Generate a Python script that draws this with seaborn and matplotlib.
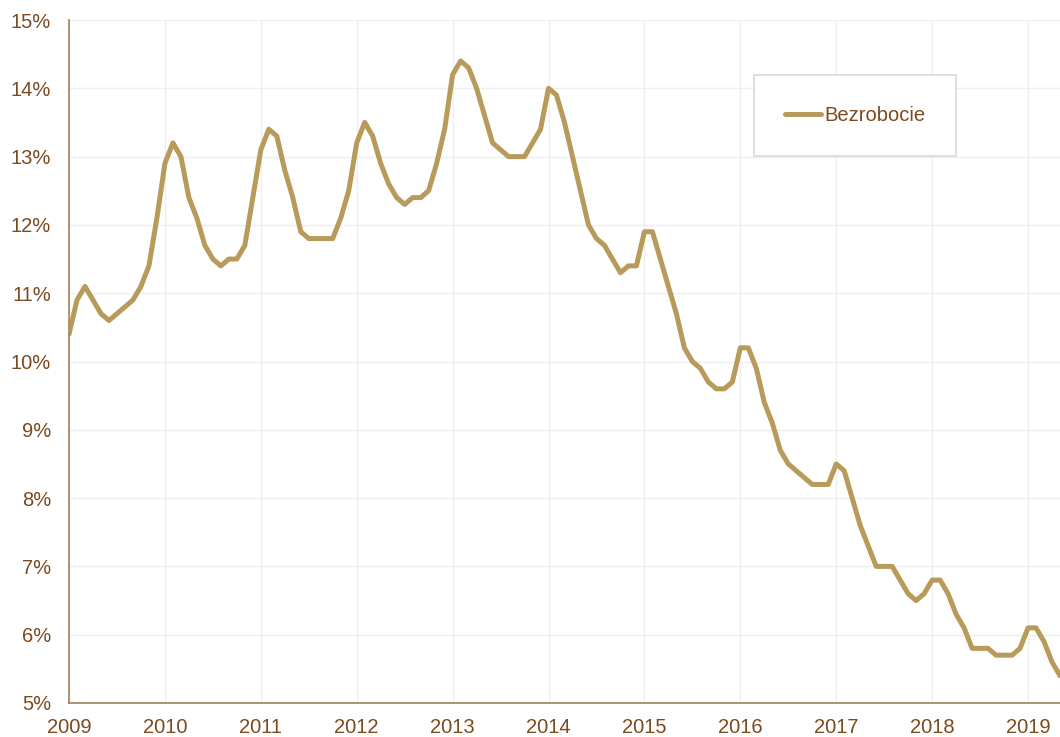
import numpy as np
import pandas as pd
import matplotlib
matplotlib.use("Agg")
import matplotlib.pyplot as plt
import seaborn as sns

# monthly unemployment rate (%), Jan 2009 - May 2019
rate_2009 = [10.4, 10.9, 11.1, 10.9, 10.7, 10.6, 10.7, 10.8, 10.9, 11.1, 11.4, 12.1]
rate_2010 = [12.9, 13.2, 13.0, 12.4, 12.1, 11.7, 11.5, 11.4, 11.5, 11.5, 11.7, 12.4]
rate_2011 = [13.1, 13.4, 13.3, 12.8, 12.4, 11.9, 11.8, 11.8, 11.8, 11.8, 12.1, 12.5]
rate_2012 = [13.2, 13.5, 13.3, 12.9, 12.6, 12.4, 12.3, 12.4, 12.4, 12.5, 12.9, 13.4]
rate_2013 = [14.2, 14.4, 14.3, 14.0, 13.6, 13.2, 13.1, 13.0, 13.0, 13.0, 13.2, 13.4]
rate_2014 = [14.0, 13.9, 13.5, 13.0, 12.5, 12.0, 11.8, 11.7, 11.5, 11.3, 11.4, 11.4]
rate_2015 = [11.9, 11.9, 11.5, 11.1, 10.7, 10.2, 10.0, 9.9, 9.7, 9.6, 9.6, 9.7]
rate_2016 = [10.2, 10.2, 9.9, 9.4, 9.1, 8.7, 8.5, 8.4, 8.3, 8.2, 8.2, 8.2]
rate_2017 = [8.5, 8.4, 8.0, 7.6, 7.3, 7.0, 7.0, 7.0, 6.8, 6.6, 6.5, 6.6]
rate_2018 = [6.8, 6.8, 6.6, 6.3, 6.1, 5.8, 5.8, 5.8, 5.7, 5.7, 5.7, 5.8]
rate_2019 = [6.1, 6.1, 5.9, 5.6, 5.4]

years = [str(y) for y in range(2009, 2020)]
y_ticks = list(range(5, 16))
series_name = "Bezrobocie"

rates = (rate_2009 + rate_2010 + rate_2011 + rate_2012 + rate_2013 + rate_2014
         + rate_2015 + rate_2016 + rate_2017 + rate_2018 + rate_2019)
df = pd.DataFrame({"month": np.arange(len(rates)), "rate": rates, "series": series_name})

line_color = "#b89a5a"
text_color = "#7b4a1f"
spine_color = "#a88a68"
grid_color = "#efefef"

sns.set_theme(style="whitegrid")
plt.rcParams["font.family"] = ["Liberation Sans", "DejaVu Sans"]

fig = plt.figure(figsize=(10.6, 7.37), dpi=100)
ax = fig.add_axes([69 / 1060, 1 - 703 / 737, 1 - 69 / 1060, (703 - 20) / 737])

sns.lineplot(data=df, x="month", y="rate", hue="series", palette=[line_color],
             linewidth=3.6, ax=ax)

ax.set_xlim(0, len(rates) - 1)
ax.set_ylim(5, 15)
ax.set_xticks(np.arange(len(years)) * 12)
ax.set_xticklabels(years)
ax.set_yticks(y_ticks)
ax.set_yticklabels([f"{v}%" for v in y_ticks])
ax.set_xlabel("")
ax.set_ylabel("")

ax.set_facecolor("white")
ax.grid(True, color=grid_color, linewidth=1)
for side in ["top", "right"]:
    ax.spines[side].set_visible(False)
for side in ["left", "bottom"]:
    ax.spines[side].set_color(spine_color)
    ax.spines[side].set_linewidth(1.3)

ax.tick_params(axis="both", length=0, labelsize=14.5, labelcolor=text_color)
ax.tick_params(axis="y", pad=13)
ax.tick_params(axis="x", pad=10.5)

leg = ax.legend(loc="center", bbox_to_anchor=(855 / 1060, 1 - 115.5 / 737),
                bbox_transform=fig.transFigure, fontsize=14.5, frameon=True,
                fancybox=False, borderpad=1.55, handlelength=1.8,
                handletextpad=0.15, title=None)
leg.get_frame().set_edgecolor("#d9d9d9")
leg.get_frame().set_linewidth(1.2)
leg.get_frame().set_alpha(1)
for t in leg.get_texts():
    t.set_color(text_color)

fig.savefig("out.png", dpi=100, facecolor="white")
